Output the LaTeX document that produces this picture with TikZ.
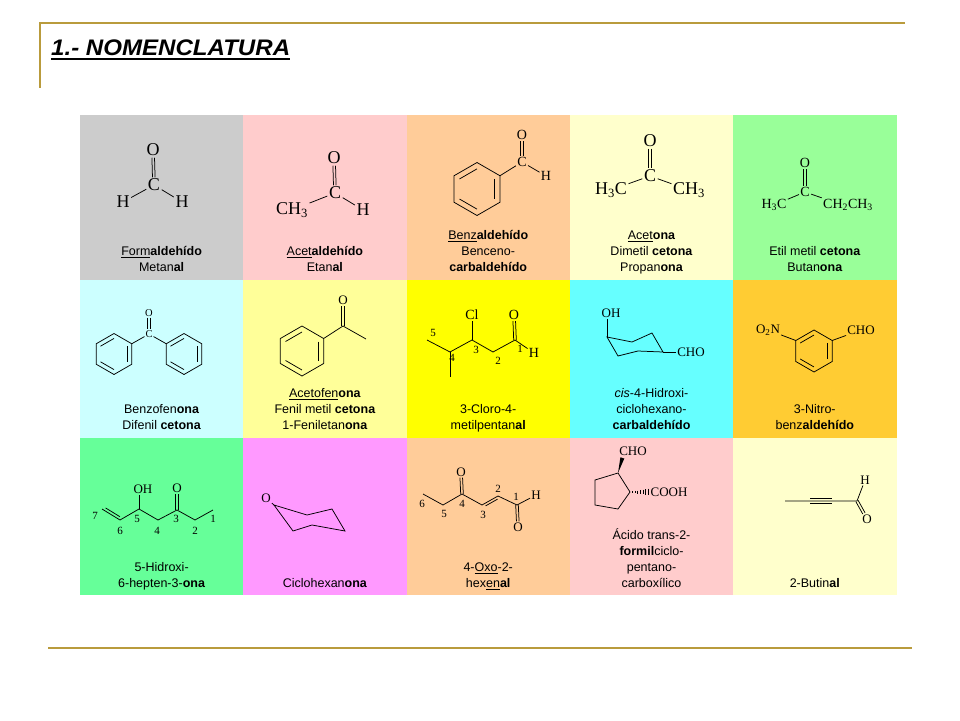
\documentclass[tikz,border=0pt]{standalone}
\usepackage{fontspec}
\setmainfont{Liberation Sans}
\newfontfamily\chemf{Liberation Serif}
\usetikzlibrary{calc}
\definecolor{goldline}{RGB}{185,155,60}
\definecolor{cA}{HTML}{CCCCCC}
\definecolor{cB}{HTML}{FFCCCC}
\definecolor{cC}{HTML}{FFCC99}
\definecolor{cD}{HTML}{FFFFCC}
\definecolor{cE}{HTML}{99FF99}
\definecolor{cF}{HTML}{CCFFFF}
\definecolor{cG}{HTML}{FFFF99}
\definecolor{cH}{HTML}{FFFF00}
\definecolor{cI}{HTML}{66FFFF}
\definecolor{cJ}{HTML}{FFCC33}
\definecolor{cK}{HTML}{66FF99}
\definecolor{cL}{HTML}{FF99FF}
\newcommand\sub[1]{\textsubscript{#1}}
\newcommand\ringat[4]{%
  \coordinate (#1) at (#2,#3);
  \foreach \k in {0,...,5}{\coordinate (#1-\k) at ($(#1)+({-90+60*\k}:#4)$);}
  \draw[bond] (#1-0)--(#1-1)--(#1-2)--(#1-3)--(#1-4)--(#1-5)--cycle;}
\newcommand\inb[3]{\draw[bond] ($(#1)!0.76!(#1-#2)$) -- ($(#1)!0.76!(#1-#3)$);}
\begin{document}
\begin{tikzpicture}[x=1pt,y=-1pt,
  bond/.style={line width=0.75pt},
  lbl/.style={font=\fontsize{12.5}{16}\selectfont, align=center, anchor=south, inner sep=0pt},
  atomL/.style={font=\chemf\fontsize{18}{18}\selectfont, inner sep=1.5pt},
  atomM/.style={font=\chemf\fontsize{14}{14}\selectfont, inner sep=1.2pt},
  atomS/.style={font=\chemf\fontsize{13}{13}\selectfont, inner sep=1pt},
  atomT/.style={font=\chemf\fontsize{10.5}{10.5}\selectfont, inner sep=0.8pt},
  num/.style={font=\chemf\fontsize{11}{11}\selectfont, inner sep=0pt},
  dL/.style={bond, transform canvas={xshift=-1.3pt}},
  dR/.style={bond, transform canvas={xshift=1.3pt}}]
\useasboundingbox (0,0) rectangle (960,720);
% frame lines
\draw[goldline, line width=2pt] (40,23) -- (905,23);
\draw[goldline, line width=1.5pt] (40,22) -- (40,88);
\draw[goldline, line width=2.5pt] (48,648) -- (912,648);
% title
\node[font=\fontsize{22.5}{22.5}\selectfont\bfseries\itshape, inner sep=0pt, anchor=base west] (title) at (51,55) {\scalebox{1.07}[1]{1.- NOMENCLATURA}};
\draw[line width=2.4pt] ([yshift=-3.8pt]title.base west) -- ([yshift=-3.8pt]title.base east);
% cells
\fill[cA] (80,115) rectangle (243.3,280);
\fill[cB] (243.3,115) rectangle (406.6,280);
\fill[cC] (406.6,115) rectangle (569.9,280);
\fill[cD] (569.9,115) rectangle (733.2,280);
\fill[cE] (733.2,115) rectangle (896.5,280);
\fill[cF] (80,280) rectangle (243.3,437.5);
\fill[cG] (243.3,280) rectangle (406.6,437.5);
\fill[cH] (406.6,280) rectangle (569.9,437.5);
\fill[cI] (569.9,280) rectangle (733.2,437.5);
\fill[cJ] (733.2,280) rectangle (896.5,437.5);
\fill[cK] (80,437.5) rectangle (243.3,595);
\fill[cL] (243.3,437.5) rectangle (406.6,595);
\fill[cC] (406.6,437.5) rectangle (569.9,595);
\fill[cB] (569.9,437.5) rectangle (733.2,595);
\fill[cD] (733.2,437.5) rectangle (896.5,595);

% ---- cell 1: formaldehyde
\node[atomL] (fO) at (153,150) {O};
\node[atomL] (fC) at (154,185) {C};
\node[atomL] (fHa) at (123,202) {H};
\node[atomL] (fHb) at (182,202) {H};
\draw[dL] (fO) -- (fC); \draw[dR] (fO) -- (fC);
\draw[bond] (fC) -- (fHa); \draw[bond] (fC) -- (fHb);
% ---- cell 2: acetaldehyde
\node[atomL] (aO) at (334,158) {O};
\node[atomL] (aC) at (335,193) {C};
\node[atomL] (aM) at (292,210) {CH\sub{3}};
\node[atomL] (aH) at (363,210) {H};
\draw[dL] (aO) -- (aC); \draw[dR] (aO) -- (aC);
\draw[bond] (aC) -- (aM); \draw[bond] (aC) -- (aH);
% ---- cell 3: benzaldehyde
\ringat{rb}{477}{189}{26.5}
\inb{rb}{1}{2} \inb{rb}{3}{4} \inb{rb}{5}{0}
\node[atomM] (bC) at (522,162) {C};
\node[atomM] (bO) at (522,135) {O};
\node[atomM] (bH) at (546,176) {H};
\draw[bond] (rb-1) -- (bC);
\draw[dL] (bO) -- (bC); \draw[dR] (bO) -- (bC);
\draw[bond] (bC) -- (bH);
% ---- cell 4: acetone
\node[atomL] (kO) at (650,141) {O};
\node[atomL] (kC) at (650,176) {C};
\node[atomL] (kL) at (611,190) {H\sub{3}C};
\node[atomL] (kR) at (689,190) {CH\sub{3}};
\draw[dL] (kO) -- (kC); \draw[dR] (kO) -- (kC);
\draw[bond] (kC) -- (kL); \draw[bond] (kC) -- (kR);
% ---- cell 5: butanone
\node[atomM] (eO) at (805,163) {O};
\node[atomM] (eC) at (805,192) {C};
\node[atomM] (eL) at (774,205) {H\sub{3}C};
\node[atomM] (eR) at (848,205) {CH\sub{2}CH\sub{3}};
\draw[dL] (eO) -- (eC); \draw[dR] (eO) -- (eC);
\draw[bond] (eC) -- (eL); \draw[bond] (eC) -- (eR.north west);

% ---- cell 6: benzophenone
\ringat{rp}{114}{354}{20.5}
\ringat{rq}{184}{354}{20.5}
\inb{rp}{1}{2} \inb{rp}{3}{4} \inb{rp}{5}{0}
\inb{rq}{1}{2} \inb{rq}{3}{4} \inb{rq}{5}{0}
\node[atomT] (pC) at (149,334) {C};
\node[atomT] (pO) at (149,313) {O};
\draw[bond] (rp-1) -- (pC); \draw[bond] (rq-5) -- (pC);
\draw[dL] (pO) -- (pC); \draw[dR] (pO) -- (pC);
% ---- cell 7: acetophenone
\ringat{rf}{302}{351}{25}
\inb{rf}{1}{2} \inb{rf}{3}{4} \inb{rf}{5}{0}
\coordinate (fk) at (343,326);
\coordinate (fme) at (366,339);
\node[atomS] (fkO) at (343,300) {O};
\draw[bond] (rf-1) -- (fk) -- (fme);
\draw[dL] (fk) -- (fkO); \draw[dR] (fk) -- (fkO);
% ---- cell 8: 3-cloro-4-metilpentanal
\coordinate (h5) at (427,340); \coordinate (h4) at (450,352);
\coordinate (hm) at (450,377); \coordinate (h3) at (472,340);
\coordinate (h2) at (493,352); \coordinate (h1) at (515,340);
\node[atomM] (hCl) at (472,315) {Cl};
\node[atomM] (hO) at (514,315) {O};
\node[atomM] (hH) at (534,353) {H};
\draw[bond] (h5) -- (h4) -- (h3) -- (h2) -- (h1) -- (hH);
\draw[bond] (h4) -- (hm); \draw[bond] (h3) -- (hCl);
\draw[dL] (h1) -- (hO); \draw[dR] (h1) -- (hO);
\node[num] (hn5) at (433,333) {5};
\node[num] (hn4) at (452,358) {4};
\node[num] (hn3) at (476,350) {3};
\node[num] (hn2) at (498,361) {2};
\node[num] (hn1) at (520,349) {1};
% ---- cell 9: cis-4-hidroxiciclohexanocarbaldehido
\coordinate (c1) at (607,337); \coordinate (c2) at (632,342);
\coordinate (c3) at (652,333); \coordinate (c4) at (663,352);
\coordinate (c5) at (638,351); \coordinate (c6) at (618,356);
\draw[bond] (c1) -- (c2) -- (c3) -- (c4) -- (c5) -- (c6) -- cycle;
\node[atomS] (cOH) at (611,313) {OH};
\node[atomS] (cCHO) at (691,352) {CHO};
\draw[bond] (c1) -- (c1 |- cOH.south);
\draw[bond] (c4) -- (cCHO);
% ---- cell 10: 3-nitrobenzaldehido
\ringat{rn}{814}{351}{21}
\inb{rn}{1}{2} \inb{rn}{3}{4} \inb{rn}{5}{0}
\node[atomS] (nN) at (768,330) {O\sub{2}N};
\node[atomS] (nA) at (861,330) {CHO};
\draw[bond] (rn-5) -- (nN); \draw[bond] (rn-1) -- (nA);

% ---- cell 11: 5-hidroxi-6-hepten-3-ona
\coordinate (s7) at (102,509); \coordinate (s6) at (120,520);
\coordinate (s5) at (139,509); \coordinate (s4) at (158,520);
\coordinate (s3) at (177,510); \coordinate (s2) at (195,520);
\coordinate (s1) at (213,510);
\node[atomS] (sOH) at (143,489) {OH};
\node[atomS] (sO) at (177,488) {O};
\draw[bond] (s7) -- (s6) -- (s5) -- (s4) -- (s3) -- (s2) -- (s1);
\draw[bond] ($(s7)!0.12!(s6)+(1.4,-2.4)$) -- ($(s7)!0.92!(s6)+(1.4,-2.4)$);
\draw[bond] (s5) -- (s5 |- sOH.south);
\draw[dL] (s3) -- (sO); \draw[dR] (s3) -- (sO);
\node[num] (sn7) at (95,516) {7};
\node[num] (sn6) at (120,531) {6};
\node[num] (sn5) at (137,519) {5};
\node[num] (sn4) at (157,531) {4};
\node[num] (sn3) at (176,519) {3};
\node[num] (sn2) at (195,531) {2};
\node[num] (sn1) at (213,519) {1};
% ---- cell 12: ciclohexanona
\coordinate (x1) at (274,505); \coordinate (x2) at (307,515);
\coordinate (x3) at (332,509); \coordinate (x4) at (345,531);
\coordinate (x5) at (312,525); \coordinate (x6) at (293,531);
\draw[bond] (x1) -- (x2) -- (x3) -- (x4) -- (x5) -- (x6) -- cycle;
\node[atomS] (xO) at (266,498) {O};
\draw[bond] (xO) -- (x1);
% ---- cell 13: 4-oxo-2-hexenal
\coordinate (t6) at (423,494); \coordinate (t5) at (443,505);
\coordinate (t4) at (462,494); \coordinate (t3) at (482,505);
\coordinate (t2) at (498,496); \coordinate (t1) at (517,505);
\node[atomS] (tO4) at (461,472) {O};
\node[atomS] (tO1) at (518,527) {O};
\node[atomS] (tH) at (536,495) {H};
\draw[bond] (t6) -- (t5) -- (t4) -- (t3) -- (t2) -- (t1) -- (tH);
\draw[bond] ($(t3)!0.15!(t2)+(1.2,2.2)$) -- ($(t3)!0.9!(t2)+(1.2,2.2)$);
\draw[dL] (t4) -- (tO4); \draw[dR] (t4) -- (tO4);
\draw[dL] (t1) -- (tO1); \draw[dR] (t1) -- (tO1);
\node[num] (tn6) at (422,504) {6};
\node[num] (tn5) at (444,514) {5};
\node[num] (tn4) at (462,504) {4};
\node[num] (tn3) at (483,515) {3};
\node[num] (tn2) at (498,489) {2};
\node[num] (tn1) at (516,497) {1};
% ---- cell 14: acido trans-2-formilciclopentanocarboxilico
\coordinate (q1) at (618,473); \coordinate (q2) at (630,492);
\coordinate (q3) at (618,509); \coordinate (q4) at (595,505);
\coordinate (q5) at (595,480);
\draw[bond] (q1) -- (q2) -- (q3) -- (q4) -- (q5) -- cycle;
\node[atomS] (qCHO) at (633,451) {CHO};
\node[atomS] (qCOOH) at (669,492) {COOH};
\fill (q1) -- (624.3,458.5) -- (620.4,457.3) -- cycle;
\foreach \i in {0,...,6}{\draw[line width=0.6pt] ({632.5+2.6*\i},{491.4-0.45*\i}) -- ({632.5+2.6*\i},{492.6+0.45*\i});}
% ---- cell 15: 2-butinal
\coordinate (u4) at (785,501); \coordinate (u3) at (810,501);
\coordinate (u2) at (832,501); \coordinate (u1) at (857,501);
\node[atomS] (uH) at (865,480) {H};
\node[atomS] (uO) at (867,519) {O};
\draw[bond] (u4) -- (u3) -- (u2) -- (u1) -- (uH);
\draw[bond] ($(u3)+(0,-2.6)$) -- ($(u2)+(0,-2.6)$);
\draw[bond] ($(u3)+(0,2.6)$) -- ($(u2)+(0,2.6)$);
\draw[bond, transform canvas={xshift=1.15pt,yshift=0.6pt}] (u1) -- (uO);
\draw[bond, transform canvas={xshift=-1.15pt,yshift=-0.6pt}] (u1) -- (uO);

% ---- labels
\node[lbl] (L1) at (161.6,276.8) {\underline{Form}\textbf{aldehído}\\Metan\textbf{al}\strut};
\node[lbl] (L2) at (324.9,276.8) {\underline{Acet}\textbf{aldehído}\\Etan\textbf{al}\strut};
\node[lbl] (L3) at (488.2,276.8) {\underline{Benz}\textbf{aldehído}\\Benceno-\\\textbf{carbaldehído}\strut};
\node[lbl] (L4) at (651.5,276.8) {\underline{Acet}\textbf{ona}\\Dimetil \textbf{cetona}\\Propan\textbf{ona}\strut};
\node[lbl] (L5) at (814.8,276.8) {Etil metil \textbf{cetona}\\Butan\textbf{ona}\strut};
\node[lbl] (L6) at (161.6,434.8) {Benzofen\textbf{ona}\\Difenil \textbf{cetona}\strut};
\node[lbl] (L7) at (324.9,434.8) {\underline{Acetofen}\textbf{ona}\\Fenil metil \textbf{cetona}\\1-Feniletan\textbf{ona}\strut};
\node[lbl] (L8) at (488.2,434.8) {3-Cloro-4-\\metilpentan\textbf{al}\strut};
\node[lbl] (L9) at (651.5,434.8) {\textit{cis}-4-Hidroxi-\\ciclohexano-\\\textbf{carbaldehído}\strut};
\node[lbl] (L10) at (814.8,434.8) {3-Nitro-\\benz\textbf{aldehído}\strut};
\node[lbl] (L11) at (161.6,592.8) {5-Hidroxi-\\6-hepten-3-\textbf{ona}\strut};
\node[lbl] (L12) at (324.9,592.8) {Ciclohexan\textbf{ona}\strut};
\node[lbl] (L13) at (488.2,592.8) {4-\underline{Oxo}-2-\\hex\underline{en}\textbf{al}\strut};
\node[lbl] (L14) at (651.5,592.8) {Ácido trans-2-\\\textbf{formil}ciclo-\\pentano-\\carboxílico\strut};
\node[lbl] (L15) at (814.8,592.8) {2-Butin\textbf{al}\strut};
\end{tikzpicture}
\end{document}
